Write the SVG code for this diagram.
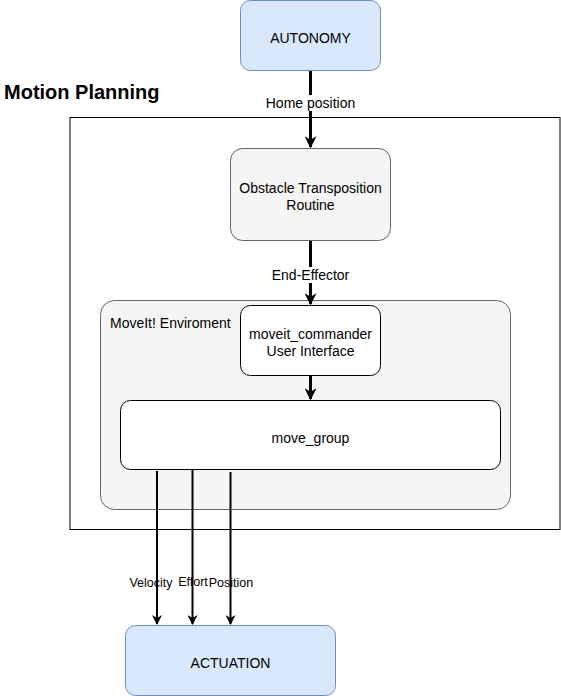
<svg xmlns="http://www.w3.org/2000/svg" width="561" height="696" viewBox="0 0 561 696">
<defs>
<marker id="ah" viewBox="0 0 10 10" refX="9" refY="5" markerWidth="4" markerHeight="4" orient="auto" markerUnits="strokeWidth">
<path d="M0,0 L10,5 L0,10 L3,5 Z" fill="#000"/>
</marker>
<marker id="ah2" viewBox="0 0 10 10" refX="9" refY="5" markerWidth="5" markerHeight="5" orient="auto" markerUnits="strokeWidth">
<path d="M0,0 L10,5 L0,10 L3,5 Z" fill="#000"/>
</marker>
<style>
text{font-family:"Liberation Sans",Arial,sans-serif;font-size:14px;fill:#000}
.blue{fill:#dae8fc;stroke:#6c8ebf;stroke-width:1}
.grey{fill:#f5f5f5;stroke:#666;stroke-width:1}
.white{fill:#fff;stroke:#000;stroke-width:1}
.c{text-anchor:middle}
.sm{font-size:12.5px}
</style>
</defs>
<rect width="561" height="696" fill="#fff"/>
<g id="motion-planning">
<rect x="70" y="117.5" width="490" height="412" fill="none" stroke="#000"/>
<text x="4" y="99" style="font-size:20px;font-weight:bold">Motion Planning</text>
</g>
<g id="autonomy">
<rect class="blue" x="240.5" y="0.5" width="140" height="70" rx="10"/>
<text class="c" x="310.5" y="43">AUTONOMY</text>
</g>
<g id="obstacle">
<rect class="grey" x="230.5" y="148.5" width="160" height="92" rx="12"/>
<text class="c" x="310.5" y="193">Obstacle Transposition</text>
<text class="c" x="310.5" y="210">Routine</text>
</g>
<g id="moveit-env">
<rect class="grey" x="100.5" y="300.5" width="410" height="209" rx="14"/>
<text x="110" y="328">MoveIt! Enviroment</text>
</g>
<g id="commander">
<rect class="white" x="240.5" y="305.5" width="140" height="70" rx="10"/>
<text class="c" x="310.5" y="339">moveit_commander</text>
<text class="c" x="310.5" y="356">User Interface</text>
</g>
<g id="move-group">
<rect class="white" x="120.5" y="400.5" width="380" height="69" rx="10"/>
<text class="c" x="310.5" y="443">move_group</text>
</g>
<g id="actuation">
<rect class="blue" x="125.5" y="625.5" width="210" height="70" rx="10"/>
<text class="c" x="230.5" y="668">ACTUATION</text>
</g>
<g id="connectors" stroke="#000" fill="none">
<line x1="310.5" y1="71" x2="310.5" y2="147" stroke-width="3" marker-end="url(#ah)"/>
<line x1="310.5" y1="241" x2="310.5" y2="304" stroke-width="3" marker-end="url(#ah)"/>
<line x1="310.5" y1="376" x2="310.5" y2="399" stroke-width="3" marker-end="url(#ah)"/>
<line x1="157" y1="471" x2="157" y2="624" stroke-width="2" marker-end="url(#ah2)"/>
<line x1="192.5" y1="470" x2="192.5" y2="624" stroke-width="2" marker-end="url(#ah2)"/>
<line x1="230.5" y1="472" x2="230.5" y2="624" stroke-width="2" marker-end="url(#ah2)"/>
</g>
<g id="labels">
<rect x="262" y="95" width="97" height="16" fill="#fff"/>
<text class="c" x="310.5" y="108">Home position</text>
<rect x="268" y="267" width="85" height="16" fill="#fff"/>
<text class="c" x="310.5" y="280">End-Effector</text>
<text class="c sm" x="151" y="587">Velocity</text>
<text class="c sm" x="193" y="586">Effort</text>
<text class="c sm" x="231" y="587">Position</text>
</g>
</svg>
